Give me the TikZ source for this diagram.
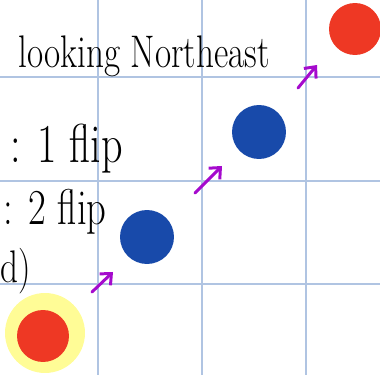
\documentclass[tikz,border=0pt]{standalone}
\usepackage{fontspec}
\usepackage{graphicx}
\usepackage{tikz}
\usetikzlibrary{arrows.meta}

\definecolor{gridblue}{RGB}{176,196,226}
\definecolor{dotred}{RGB}{238,56,36}
\definecolor{dotblue}{RGB}{24,74,170}
\definecolor{arrowpurple}{RGB}{165,10,205}
\definecolor{glow}{RGB}{255,252,150}

\newcommand{\tallnote}[1]{\scalebox{1}[1.3]{#1}}

\begin{document}
\begin{tikzpicture}[x=0.02cm, y=-0.02cm,
          gridline/.style={draw=gridblue, line width=0.7pt},
          reddot/.style={circle, fill=dotred, minimum size=1.04cm, inner sep=0pt},
          bluedot/.style={circle, fill=dotblue, minimum size=1.08cm, inner sep=0pt},
          halo/.style={circle, fill=glow, minimum size=1.6cm, inner sep=0pt},
          hop/.style={draw=arrowpurple, line width=1.7pt, line cap=round, line join=round,
                      -{Straight Barb[length=5pt, width=9pt, line width=1.7pt]}},
          note/.style={anchor=base west, inner sep=0pt, font=\fontsize{20}{24}\selectfont},
        ]
        \useasboundingbox (0,0) rectangle (380,375);
        % grid
        \foreach \g in {98,202,306} {
          \draw[gridline] (\g,0) -- (\g,375);
        }
        \foreach \g in {77,181,284} {
          \draw[gridline] (0,\g) -- (380,\g);
        }
        % notes
        \node[note] (title) at (18,68) {\tallnote{looking Northeast}};
        \node[note, font=\fontsize{24}{28}\selectfont] (one) at (10,163) {\tallnote{: 1 flip}};
        \node[note, font=\fontsize{22}{26}\selectfont] (two) at (3,225) {\tallnote{: 2 flip}};
        \node[note] (tail) at (0,283) {\tallnote{d)}};
        % dots
        \node[halo] (glowspot) at (45,333) {};
        \node[reddot] (start) at (43,336) {};
        \node[bluedot] (blueA) at (147,237) {};
        \node[bluedot] (blueB) at (259,132) {};
        \node[reddot] (goal) at (355,29) {};
        % hops
        \coordinate (h1s) at (92,292);
        \coordinate (h1e) at (113,272);
        \coordinate (h2s) at (195,193);
        \coordinate (h2e) at (222,166);
        \coordinate (h3s) at (298,88);
        \coordinate (h3e) at (317,65);
        \draw[hop] (h1s) -- (h1e);
        \draw[hop] (h2s) -- (h2e);
        \draw[hop] (h3s) -- (h3e);
      \end{tikzpicture}
\end{document}
